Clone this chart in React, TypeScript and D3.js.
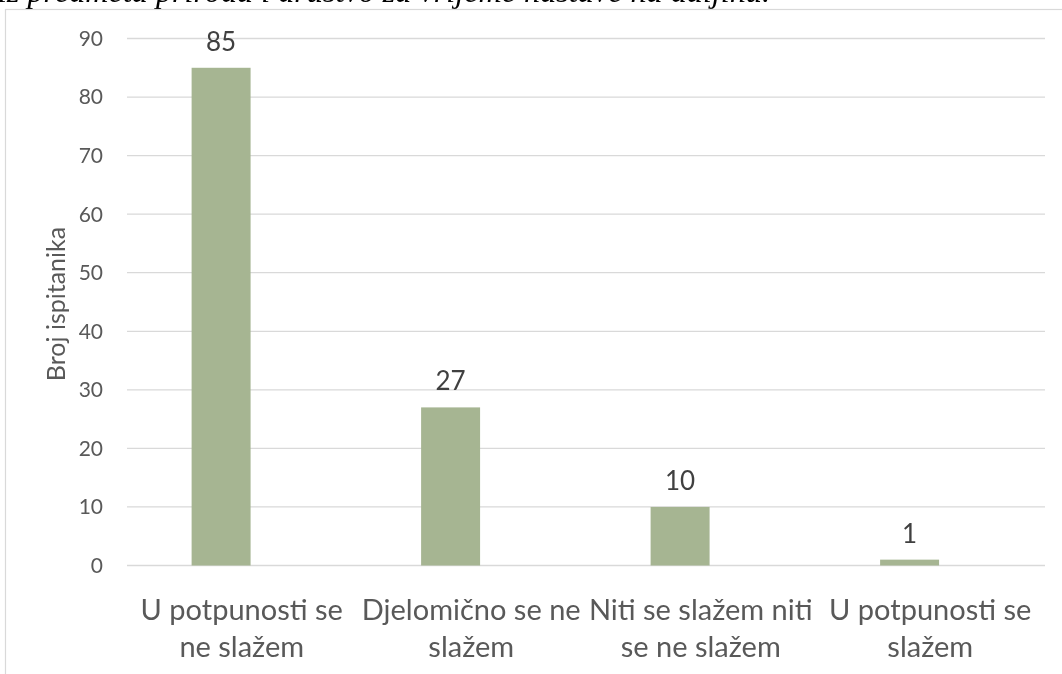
import React from "react";
import * as d3 from "d3";

// odgovori ispitanika
const categories = [
  "U potpunosti se ne slažem",
  "Djelomično se ne slažem",
  "Niti se slažem niti se ne slažem",
  "U potpunosti se slažem",
];
const categoryLines = [
  ["U potpunosti se", "ne slažem"],
  ["Djelomično se ne", "slažem"],
  ["Niti se slažem niti", "se ne slažem"],
  ["U potpunosti se", "slažem"],
];
const counts = [85, 27, 10, 1];
const yTicks = [0, 10, 20, 30, 40, 50, 60, 70, 80, 90];
const yTitle = "Broj ispitanika";
const caption = "iz predmeta priroda i društvo za vrijeme nastave na daljinu.";

const W = 1062;
const H = 674;
const FONT = "Lato, 'Open Sans', sans-serif";
const TXT = "#595959";
const GRID = "#D9D9D9";
const BAR = "#A6B592";

const App = () => {
  const x = d3.scaleBand<string>().domain(categories).range([127, 1045]).padding(0);
  const y = d3.scaleLinear().domain([0, 90]).range([565.5, 38.5]);
  const bw = x.bandwidth();
  const barW = bw * 0.257;
  // stupci su u originalu malo pomaknuti ulijevo od sredine kategorije
  const barCenter = (c: string) => (x(c) as number) + bw / 2 - bw * 0.09;

  return (
    <div style={{ position: "fixed", left: 0, top: 0 }}>
      <svg width={W} height={H} style={{ display: "block" }}>
        <rect width={W} height={H} fill="#fff" />
        <text
          x={-2}
          y={2}
          fontFamily="'Liberation Serif', 'Times New Roman', serif"
          fontStyle="italic"
          fontSize={31}
          textLength={772}
          lengthAdjust="spacingAndGlyphs"
          fill="#000"
        >
          {caption}
        </text>
        <rect x={5.5} y={9.5} width={W + 10} height={H + 10} fill="#fff" stroke={GRID} strokeWidth={1.2} />

        {yTicks.map((t) => (
          <g key={t}>
            <line x1={127} x2={1045} y1={y(t)} y2={y(t)} stroke={GRID} strokeWidth={t === 0 ? 1.6 : 1.3} />
            <text
              x={103}
              y={y(t)}
              dy="0.35em"
              textAnchor="end"
              fontFamily={FONT}
              fontSize={21}
              fill={TXT}
            >
              {t}
            </text>
          </g>
        ))}

        {categories.map((c, i) => (
          <g key={c}>
            <rect
              x={barCenter(c) - barW / 2}
              y={y(counts[i])}
              width={barW}
              height={y(0) - y(counts[i])}
              fill={BAR}
            />
            <text
              x={barCenter(c)}
              y={y(counts[i]) - 17}
              textAnchor="middle"
              fontFamily={FONT}
              fontSize={26}
              fill={"#404040"}
            >
              {counts[i]}
            </text>
            {categoryLines[i].map((line, j) => (
              <text
                key={j}
                x={(x(c) as number) + bw / 2}
                y={620 + j * 37}
                textAnchor="middle"
                fontFamily={FONT}
                fontSize={29}
                fill={TXT}
              >
                {line}
              </text>
            ))}
          </g>
        ))}

        <text
          transform={`translate(65,304) rotate(-90)`}
          textAnchor="middle"
          fontFamily={FONT}
          fontSize={25}
          fill={TXT}
        >
          {yTitle}
        </text>
      </svg>
    </div>
  );
};

export default App;
